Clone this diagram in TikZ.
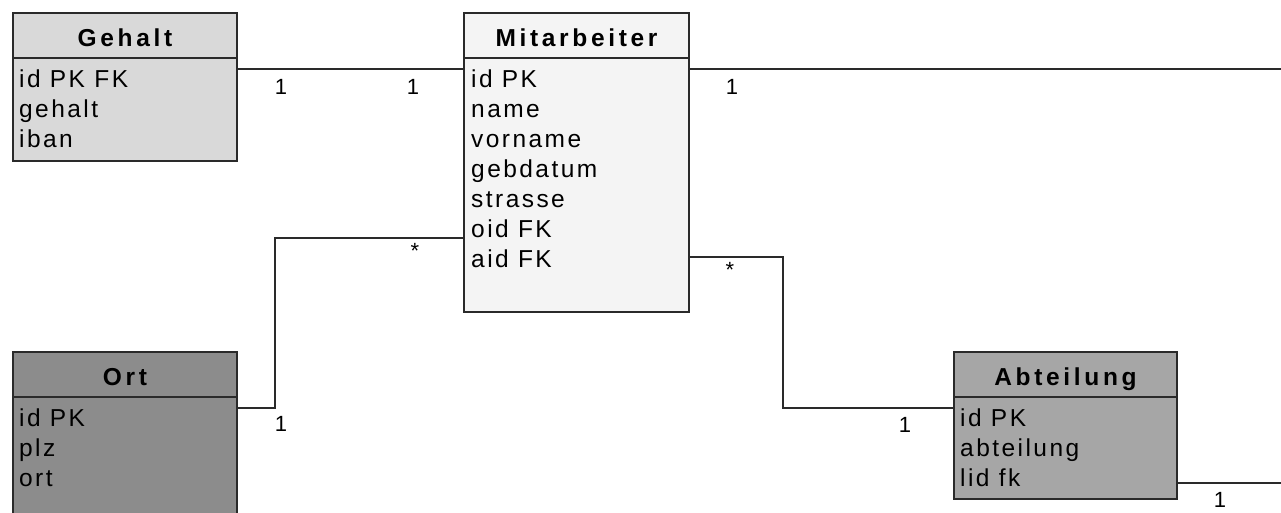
\documentclass[tikz,border=0pt]{standalone}
\usepackage{fontspec}
\setmainfont{Liberation Sans}
\newfontfamily\hdrfont{Liberation Sans}[LetterSpace=15]
\newfontfamily\bodyfont{Liberation Sans}[LetterSpace=10]
\usetikzlibrary{calc}
\definecolor{edge}{HTML}{2A2A2A}
\definecolor{cGehalt}{HTML}{D9D9D9}
\definecolor{cMit}{HTML}{F4F4F4}
\definecolor{cOrt}{HTML}{8C8C8C}
\definecolor{cAbt}{HTML}{A6A6A6}
\tikzset{
  box/.style={draw=edge, line width=2pt, rectangle, inner sep=0pt, anchor=north west},
  hdr/.style={box, font=\hdrfont\bfseries\fontsize{24.5}{28}\selectfont, text=black, text height=21pt, text depth=0pt},
  fields/.style={anchor=north west, inner sep=0pt, align=left, font=\bodyfont\fontsize{24.5}{30}\selectfont, text=black},
  conn/.style={draw=edge, line width=2pt},
  mult/.style={font=\fontsize{22}{24}\selectfont, inner sep=0pt},
}
\begin{document}
\begin{tikzpicture}[x=1pt,y=-1pt]
\useasboundingbox (0,0) rectangle (1281,512);
% Gehalt
\node[hdr, fill=cGehalt, minimum width=224pt, minimum height=45pt] (gehaltH) at (12,12) {Gehalt};
\node[box, fill=cGehalt, minimum width=224pt, minimum height=103pt] (gehaltB) at (12,57) {};
\node[fields] (gehaltT) at (19,70) {id PK FK\\gehalt\\iban};
% Mitarbeiter
\node[hdr, fill=cMit, minimum width=225pt, minimum height=45pt] (mitH) at (463,12) {Mitarbeiter};
\node[box, fill=cMit, minimum width=225pt, minimum height=254pt] (mitB) at (463,57) {};
\node[fields] (mitT) at (471,70) {id PK\\name\\vorname\\gebdatum\\strasse\\oid FK\\aid FK};
% Ort
\node[hdr, fill=cOrt, minimum width=224pt, minimum height=45pt] (ortH) at (12,351) {Ort};
\node[box, fill=cOrt, minimum width=224pt, minimum height=140pt] (ortB) at (12,396) {};
\node[fields] (ortT) at (19,409) {id PK\\plz\\ort};
% Abteilung
\node[hdr, fill=cAbt, minimum width=223pt, minimum height=45pt] (abtH) at (953,351) {Abteilung};
\node[box, fill=cAbt, minimum width=223pt, minimum height=102pt] (abtB) at (953,396) {};
\node[fields] (abtT) at (960,409) {id PK\\abteilung\\lid fk};
% connectors
\coordinate (rightA) at (1281,69);
\coordinate (rightB) at (1281,483);
\draw[conn] ($(gehaltB.north east)+(0,12)$) -- ($(mitB.north west)+(0,12)$);
\draw[conn] ($(mitB.north east)+(0,12)$) -- (rightA);
\draw[conn] ($(mitB.north west)+(0,181)$) -| (275,408) -- ($(ortB.north east)+(0,12)$);
\draw[conn] ($(mitB.north east)+(0,200)$) -| (783,408) -- ($(abtB.north west)+(0,12)$);
\draw[conn] ($(abtB.north east)+(0,87)$) -- (rightB);
% multiplicities
\node[mult] (m1) at (281,87) {1};
\node[mult] (m2) at (413,87) {1};
\node[mult] (m3) at (732,87) {1};
\node[mult] (m4) at (415,251) {*};
\node[mult] (m5) at (281,424) {1};
\node[mult] (m6) at (730,270) {*};
\node[mult] (m7) at (905,425) {1};
\node[mult] (m8) at (1220,500) {1};
\end{tikzpicture}
\end{document}
